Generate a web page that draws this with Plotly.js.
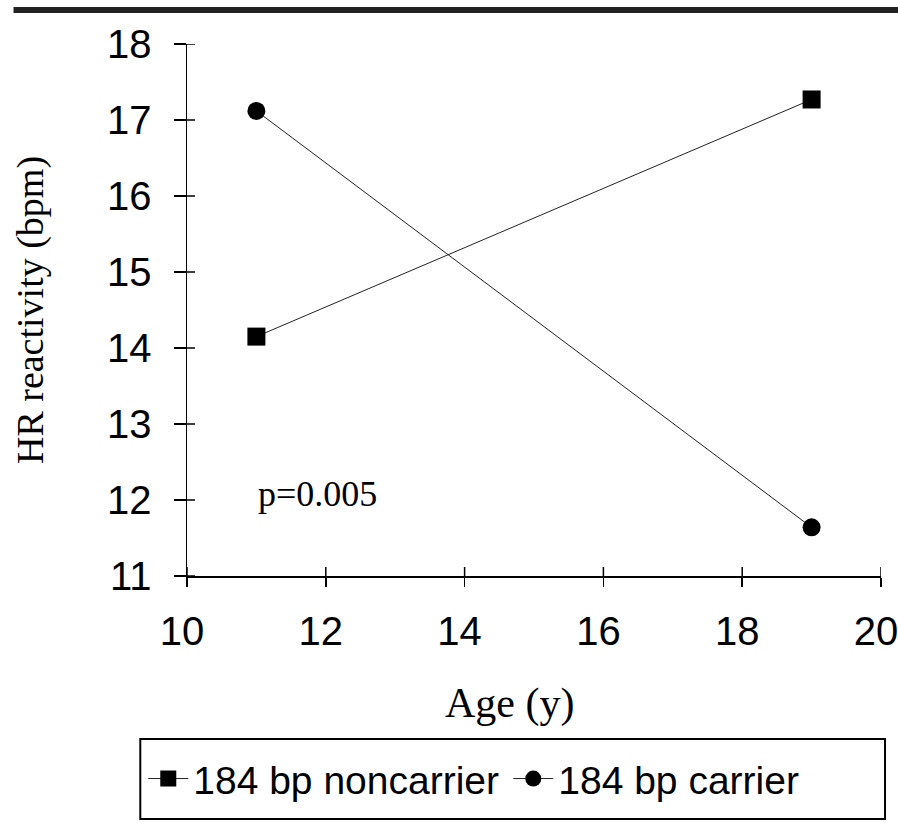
<!DOCTYPE html>
<html>
<head>
<meta charset="utf-8">
<script src="https://cdn.plot.ly/plotly-3.0.1.min.js"></script>
<style>html,body{margin:0;padding:0;background:#fff;}#chart{width:898px;height:824px;}</style>
</head>
<body>
<div id="chart"></div>
<script>
// Data
const ages = [11, 19];
const noncarrier = [14.15, 17.27];
const carrier = [17.12, 11.64];
const seriesNames = ["184 bp noncarrier", "184 bp carrier"];
const xTicks = [10, 12, 14, 16, 18, 20];
const yTicks = [11, 12, 13, 14, 15, 16, 17, 18];
const yTitle = "HR reactivity (bpm)";
const xTitle = "Age (y)";
const pLabel = "p=0.005";

const sans = "Liberation Sans, Arial, sans-serif";
const serif = "Liberation Serif, Times New Roman, serif";
const xMin = xTicks[0], xMax = xTicks[xTicks.length - 1];
const yMin = yTicks[0], yMax = yTicks[yTicks.length - 1];

const traces = [
  {x: ages, y: noncarrier, name: seriesNames[0], type: "scatter", mode: "lines+markers",
   line: {color: "#222", width: 1}, marker: {symbol: "square", size: 18, color: "#000"}},
  {x: ages, y: carrier, name: seriesNames[1], type: "scatter", mode: "lines+markers",
   line: {color: "#222", width: 1}, marker: {symbol: "circle", size: 18, color: "#000"}}
];

const axBase = {showgrid: false, zeroline: false, showline: true, linecolor: "#000", linewidth: 1.5,
  tickcolor: "#000", tickwidth: 1.5};

// inner half of the crossing tick marks, placed on the axis tick values (pixel-sized)
const innerTicks = [];
xTicks.forEach(v => innerTicks.push({type: "line", xref: "x", yref: "y", x0: v, x1: v,
  ysizemode: "pixel", yanchor: yMin, y0: 0, y1: 9, line: {color: "#000", width: 1.5}}));
yTicks.forEach(v => innerTicks.push({type: "line", xref: "x", yref: "y", y0: v, y1: v,
  xsizemode: "pixel", xanchor: xMin, x0: 0, x1: 8, line: {color: "#000", width: 1.5}}));

const layout = {
  width: 898, height: 824,
  margin: {l: 187, r: 17, t: 44, b: 248},
  paper_bgcolor: "#fff", plot_bgcolor: "#fff",
  showlegend: true,
  xaxis: Object.assign({}, axBase, {range: [xMin, xMax], tickvals: xTicks, ticktext: xTicks.map(String),
    ticks: "outside", ticklen: 9, ticklabelstandoff: 10, ticklabelshift: -5, ticklabeloverflow: "allow",
    tickfont: {family: sans, size: 40, color: "#000"}}),
  yaxis: Object.assign({}, axBase, {range: [yMin, yMax], tickvals: yTicks, ticktext: yTicks.map(String),
    ticks: "outside", ticklen: 12, ticklabelstandoff: 14, ticklabeloverflow: "allow",
    tickfont: {family: sans, size: 40, color: "#000"},
    title: {text: yTitle, font: {family: serif, size: 38, color: "#000"}, standoff: 51}}),
  legend: {orientation: "h", x: -0.063, xanchor: "left", y: -0.381, yanchor: "middle",
    font: {family: sans, size: 39, color: "#000"}, borderwidth: 0, bgcolor: "rgba(0,0,0,0)",
    itemwidth: 40, entrywidth: 310},
  annotations: [
    {text: pLabel, xref: "x", yref: "y", x: 11, y: 12.08, xanchor: "left", yanchor: "middle",
     showarrow: false, font: {family: serif, size: 36, color: "#000"}},
    {text: xTitle, xref: "x", yref: "paper", x: 14.64, y: -0.239, xanchor: "center", yanchor: "middle",
     showarrow: false, font: {family: serif, size: 42, color: "#000"}}
  ],
  shapes: [
    {type: "rect", xref: "paper", yref: "paper", x0: -0.25, x1: 1.03, y0: 1.0583, y1: 1.0695,
     fillcolor: "#222", line: {width: 0}},
    {type: "rect", xref: "paper", yref: "paper", x0: -0.0673, x1: 1.0058, y0: -0.4568, y1: -0.3064,
     fillcolor: "rgba(0,0,0,0)", line: {color: "#000", width: 2}}
  ].concat(innerTicks)
};

Plotly.newPlot("chart", traces, layout, {displayModeBar: false, staticPlot: true});
</script>
</body>
</html>
